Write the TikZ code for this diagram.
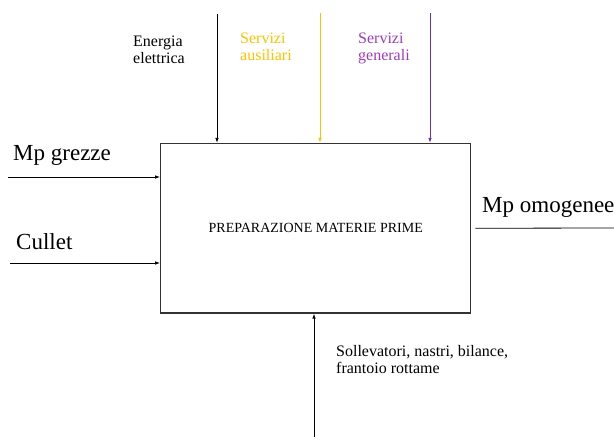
\documentclass[tikz,border=0pt]{standalone}
\usepackage{fontspec}
\setmainfont{Liberation Serif}
\usetikzlibrary{arrows.meta,positioning,calc}
\definecolor{giallo}{HTML}{FFC000}
\definecolor{viola}{HTML}{7030A0}
\definecolor{violatesto}{HTML}{9C3CBE}

\begin{document}
\begin{tikzpicture}[x=1pt, y=-1pt, every node/.style={inner sep=0pt},
	flusso/.style={line width=0.8pt, -{Latex[length=5pt,width=3.5pt]}},
	grande/.style={font=\fontsize{23}{26}\selectfont, anchor=base west},
	piccolo/.style={font=\fontsize{16}{17}\selectfont, align=left, anchor=north west}]
					\useasboundingbox (0,0) rectangle (614,437);
					\node[rectangle, draw=black!80, line width=1.2pt, minimum width=310pt, minimum height=169.5pt] (prep) at (315.75,228.25) {\fontsize{14}{16}\selectfont PREPARAZIONE MATERIE PRIME};
					
					% ingressi dall'alto
					\coordinate (en) at (217,14);
					\coordinate (sa) at (320,13);
					\coordinate (sg) at (430,13);
					\draw[flusso] (en) -- (en |- prep.north);
					\draw[flusso, giallo] (sa) -- (sa |- prep.north);
					\draw[flusso, viola] (sg) -- (sg |- prep.north);
					\node[piccolo] (lben) at (133,36) {Energia\\elettrica};
					\node[piccolo, text=giallo] (lbsa) at (240,33) {Servizi\\ausiliari};
					\node[piccolo, text=violatesto] (lbsg) at (358,33) {Servizi\\generali};
					
					% ingressi da sinistra
					\coordinate (mg) at (8,177);
					\coordinate (cu) at (10,263);
					\draw[flusso] (mg) -- (prep.west |- mg);
					\draw[flusso] (cu) -- (prep.west |- cu);
					\node[grande] (lbmg) at (13,160) {Mp grezze};
					\node[grande] (lbcu) at (16,249) {Cullet};
					
					% uscita
					\coordinate (mo) at (614,228);
					\draw[line width=0.8pt] ([xshift=4pt]prep.east) -- (mo);
					\node[grande] (lbmo) at (482,212) {Mp omogenee};
					
					% meccanismi
					\coordinate (so) at (314,437);
					\draw[flusso] (so) -- (so |- prep.south);
					\node[piccolo, font=\fontsize{16}{17}\selectfont] (lbso) at (336,345) {Sollevatori, nastri, bilance,\\frantoio rottame};
				\end{tikzpicture}
\end{document}
